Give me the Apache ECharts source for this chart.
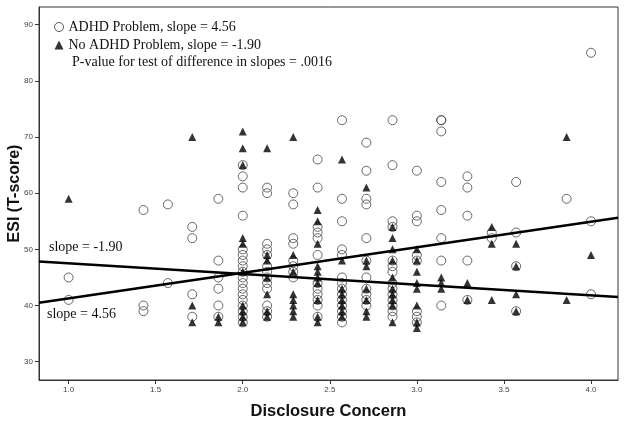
<!DOCTYPE html>
<html>
<head>
<meta charset="utf-8">
<script src="https://cdn.jsdelivr.net/npm/echarts@6/dist/echarts.min.js"></script>
<style>
  html, body { margin: 0; padding: 0; background: #fff; }
  #chart { width: 624px; height: 424px; }
</style>
</head>
<body>
<div id="chart"></div>
<script>
// disclosure concern levels (x), one column of scores per level
var xLevels = [1.0, 1.43, 1.57, 1.71, 1.86, 2.0, 2.14, 2.29, 2.43, 2.57, 2.71, 2.86, 3.0, 3.14, 3.29, 3.43, 3.57, 3.86, 4.0];

// ESI T-scores, ADHD problem group (circles)
var adhdScores = [
  [45, 41],
  [57, 40, 39],
  [58, 44],
  [54, 52, 42, 38],
  [59, 48, 45, 43, 40, 38],
  [65, 63, 61, 56, 50, 49, 48, 47, 46, 45, 44, 43, 42, 41, 40, 39, 38, 37],
  [61, 60, 51, 50, 49, 47, 46, 45, 44, 43, 40, 39, 38],
  [60, 58, 52, 51, 48, 47, 46, 45],
  [66, 61, 54, 53, 52, 49, 44, 43, 42, 41, 40, 38],
  [73, 59, 55, 50, 49, 45, 44, 43, 42, 41, 40, 39, 38, 37],
  [69, 64, 59, 58, 52, 48, 45, 43, 42, 41, 40],
  [73, 65, 55, 54, 48, 47, 46, 44, 43, 42, 41, 40, 39, 38],
  [64, 56, 55, 49, 48, 39, 38, 37],
  [73, 73, 71, 62, 57, 52, 48, 40],
  [63, 61, 56, 48, 41],
  [53, 52],
  [62, 53, 47, 39],
  [59],
  [85, 55, 42]
];

// ESI T-scores, no ADHD problem group (triangles)
var noAdhdScores = [
  [59],
  [],
  [],
  [70, 40, 37],
  [38, 37],
  [71, 68, 65, 52, 51, 46, 40, 39, 38, 37],
  [68, 49, 48, 45, 42, 39, 38],
  [70, 49, 46, 42, 41, 40, 39, 38],
  [57, 55, 51, 47, 46, 45, 44, 41, 38, 37],
  [66, 48, 43, 42, 41, 40, 39, 38],
  [61, 48, 47, 43, 41, 39, 38],
  [54, 52, 50, 48, 45, 43, 42, 41, 40, 37],
  [50, 48, 46, 44, 43, 40, 37, 36],
  [45, 44, 43],
  [44, 41],
  [54, 51, 41],
  [51, 47, 42, 39],
  [70, 41],
  [49]
];

// fitted lines
var adhdFit = { intercept: 36.7, slope: 4.56 };
var noAdhdFit = { intercept: 49.41, slope: -1.90 };

var xTicks = [1.0, 1.5, 2.0, 2.5, 3.0, 3.5, 4.0];
var yTicks = [30, 40, 50, 60, 70, 80, 90];

var xMin = 0.83, xMax = 4.155;
var yMin = 26.74, yMax = 93.15;

var serif = "'Liberation Serif', 'Times New Roman', serif";
var sans = "'Liberation Sans', Arial, sans-serif";

function toPoints(scores) {
  var pts = [];
  scores.forEach(function (col, i) {
    col.forEach(function (v) { pts.push([xLevels[i], v]); });
  });
  return pts;
}

function fitLine(f) {
  return [[xMin, f.intercept + f.slope * xMin], [xMax, f.intercept + f.slope * xMax]];
}

var chart = echarts.init(document.getElementById('chart'));

chart.setOption({
  animation: false,
  grid: {
    left: 39, right: 6, top: 7, bottom: 44,
    containLabel: false, outerBoundsMode: 'none',
    show: true, borderColor: '#333', borderWidth: 1
  },
  legend: {
    orient: 'vertical',
    left: 54, top: 19, padding: 0,
    itemWidth: 9, itemHeight: 9,
    itemGap: 2,
    textStyle: { fontFamily: serif, fontSize: 14, color: '#111', lineHeight: 16 },
    data: [
      { name: 'ADHD Problem, slope = 4.56', icon: 'circle',
        itemStyle: { color: 'rgba(0,0,0,0)', borderColor: '#333', borderWidth: 1 } },
      { name: 'No ADHD Problem, slope = -1.90', icon: 'triangle',
        itemStyle: { color: '#000' } }
    ]
  },
  xAxis: {
    type: 'value', min: xMin, max: xMax,
    name: 'Disclosure Concern', nameLocation: 'middle', nameGap: 23, nameMoveOverlap: false,
    nameTextStyle: { fontFamily: sans, fontSize: 16.5, fontWeight: 'bold', color: '#111' },
    axisLine: { show: true, lineStyle: { color: '#333' } },
    axisTick: { show: true, length: 4, lineStyle: { color: '#333' }, customValues: xTicks },
    axisLabel: { fontFamily: sans, fontSize: 8, color: '#444', margin: 6, customValues: xTicks,
      formatter: function (v) { return v.toFixed(1); } },
    splitLine: { show: false }
  },
  yAxis: {
    type: 'value', min: yMin, max: yMax,
    name: 'ESI (T-score)', nameLocation: 'middle', nameGap: 16, nameMoveOverlap: false,
    nameTextStyle: { fontFamily: sans, fontSize: 16, fontWeight: 'bold', color: '#111' },
    axisLine: { show: true, lineStyle: { color: '#333' } },
    axisTick: { show: true, length: 4, lineStyle: { color: '#333' }, customValues: yTicks },
    axisLabel: { fontFamily: sans, fontSize: 8, color: '#444', margin: 6, customValues: yTicks },
    splitLine: { show: false }
  },
  graphic: [
    { type: 'text', left: 72, top: 55,
      style: { text: 'P-value for test of difference in slopes = .0016', font: '14px ' + serif, fill: '#111' } },
    { type: 'text', left: 49, top: 240,
      style: { text: 'slope = -1.90', font: '14px ' + serif, fill: '#111' } },
    { type: 'text', left: 47, top: 307,
      style: { text: 'slope = 4.56', font: '14px ' + serif, fill: '#111' } }
  ],
  series: [
    {
      name: 'ADHD Problem, slope = 4.56',
      type: 'scatter',
      symbol: 'circle', symbolSize: 9,
      itemStyle: { color: 'rgba(0,0,0,0)', borderColor: '#444', borderWidth: 1 },
      data: toPoints(adhdScores)
    },
    {
      name: 'No ADHD Problem, slope = -1.90',
      type: 'scatter',
      symbol: 'triangle', symbolSize: 8,
      itemStyle: { color: '#000' },
      data: toPoints(noAdhdScores)
    },
    {
      type: 'line', silent: true, symbol: 'none',
      lineStyle: { color: '#000', width: 2.5 },
      data: fitLine(adhdFit)
    },
    {
      type: 'line', silent: true, symbol: 'none',
      lineStyle: { color: '#000', width: 2.5 },
      data: fitLine(noAdhdFit)
    }
  ]
});
</script>
</body>
</html>
